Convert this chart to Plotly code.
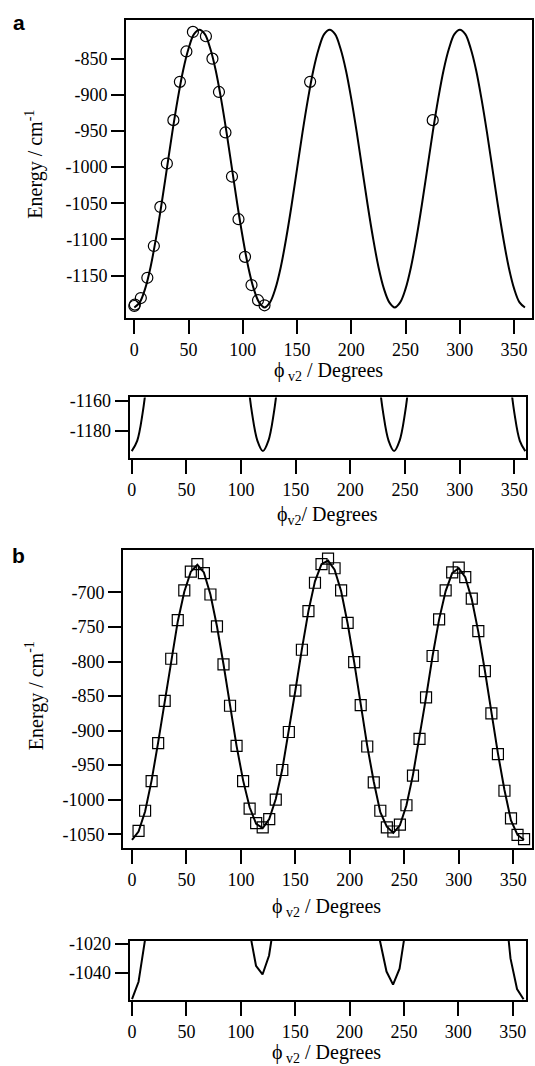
import plotly.graph_objects as go

W, H = 535, 1066

# ---------------- Panel a data ----------------
phi_a_curve = list(range(0, 361, 5))
E_a_curve = [
    -1194, -1187, -1168, -1138, -1098, -1052, -1002, -952, -906, -866, -836, -816,
    -810, -816, -836, -866, -906, -952, -1002, -1052, -1098, -1138, -1168, -1187,
    -1194, -1187, -1168, -1138, -1098, -1052, -1002, -952, -906, -866, -836, -816,
    -810, -816, -836, -866, -906, -952, -1002, -1052, -1098, -1138, -1168, -1187,
    -1194, -1187, -1168, -1138, -1098, -1052, -1002, -952, -906, -866, -836, -816,
    -810, -816, -836, -866, -906, -952, -1002, -1052, -1098, -1138, -1168, -1187,
    -1194,
]
phi_a_pts = [0, 0.5, 6, 12, 18, 24, 30, 36, 42, 48, 54, 66, 72, 78, 84, 90, 96,
             102, 108, 114, 120, 162, 275]
E_a_pts = [-1192, -1190, -1181, -1153, -1109, -1055, -995, -935, -882, -840, -813,
           -819, -850, -896, -952, -1013, -1072, -1124, -1163, -1184, -1191,
           -882, -935]

# ---------------- Panel b data ----------------
phi_b_curve = list(range(0, 361, 6))
E_b_curve = [
    -1058, -1046, -1017, -972, -917, -857, -797, -742, -699, -670, -660,
    -671, -703, -749, -804, -864, -922, -972, -1011, -1035, -1041,
    -1028, -999, -956, -902, -842, -782, -727, -684, -659, -654,
    -667, -698, -745, -801, -862, -922, -974, -1018, -1039, -1048,
    -1037, -1008, -964, -911, -852, -792, -739, -698, -672, -665,
    -678, -710, -757, -813, -874, -933, -986, -1030, -1051, -1058,
]
phi_b_pts = list(range(6, 361, 6))
E_b_pts = [
    -1045, -1016, -973, -918, -857, -796, -740, -697, -670, -659,
    -672, -703, -749, -804, -864, -922, -973, -1013, -1034, -1040,
    -1028, -1000, -957, -902, -842, -783, -727, -686, -659, -651,
    -665, -697, -744, -801, -863, -923, -975, -1016, -1040, -1046,
    -1036, -1008, -965, -912, -852, -792, -739, -697, -671, -664,
    -678, -709, -756, -814, -875, -934, -987, -1027, -1051, -1057,
]

x_ticks = [0, 50, 100, 150, 200, 250, 300, 350]
y_ticks_a = [-1150, -1100, -1050, -1000, -950, -900, -850]
y_ticks_a_small = [-1180, -1160]
y_ticks_b = [-1050, -1000, -950, -900, -850, -800, -750, -700]
y_ticks_b_small = [-1040, -1020]

SERIF = "Liberation Serif, Times New Roman, serif"
TICKFONT = dict(family=SERIF, size=18, color="black")
TITLEFONT = dict(family=SERIF, size=20, color="black")


def px_x(p):
    return p / W


def px_y(p):
    return 1 - p / H


fig = go.Figure()

line_style = dict(color="black", width=2)

# panel a main
fig.add_trace(go.Scatter(x=phi_a_curve, y=E_a_curve, mode="lines",
                         line=dict(shape="spline", smoothing=1, **line_style),
                         xaxis="x", yaxis="y", showlegend=False))
fig.add_trace(go.Scatter(x=phi_a_pts, y=E_a_pts, mode="markers",
                         marker=dict(symbol="circle-open", size=11, color="black",
                                     line=dict(width=1.2, color="black")),
                         xaxis="x", yaxis="y", showlegend=False))
# panel a small
fig.add_trace(go.Scatter(x=phi_a_curve, y=E_a_curve, mode="lines",
                         line=dict(shape="spline", smoothing=1, **line_style),
                         xaxis="x2", yaxis="y2", showlegend=False))
# panel b main
fig.add_trace(go.Scatter(x=phi_b_curve, y=E_b_curve, mode="lines",
                         line=line_style,
                         xaxis="x3", yaxis="y3", showlegend=False))
fig.add_trace(go.Scatter(x=phi_b_pts, y=E_b_pts, mode="markers",
                         marker=dict(symbol="square-open", size=11, color="black",
                                     line=dict(width=1.2, color="black")),
                         xaxis="x3", yaxis="y3", showlegend=False))
# panel b small
fig.add_trace(go.Scatter(x=phi_b_curve, y=E_b_curve, mode="lines",
                         line=line_style,
                         xaxis="x4", yaxis="y4", showlegend=False))


def xax(domain, rng, anchor):
    return dict(domain=domain, range=rng, anchor=anchor, tickvals=x_ticks,
                ticktext=[str(v) for v in x_ticks],
                ticks="outside", ticklen=14, tickwidth=2, tickcolor="black",
                showline=True, linecolor="black", linewidth=2, mirror=True,
                showgrid=False, zeroline=False, tickfont=TICKFONT,
                ticklabelstandoff=0)


def yax(domain, rng, anchor, tv):
    return dict(domain=domain, range=rng, anchor=anchor, tickvals=tv,
                ticktext=[str(v) for v in tv],
                ticks="outside", ticklen=13, tickwidth=2, tickcolor="black",
                showline=True, linecolor="black", linewidth=2, mirror=True,
                showgrid=False, zeroline=False, tickfont=TICKFONT)


fig.update_layout(
    width=W, height=H, margin=dict(l=0, r=0, t=0, b=0),
    paper_bgcolor="white", plot_bgcolor="white", showlegend=False,
    xaxis=xax([px_x(125), px_x(534)], [-7.6, 366.5], "y"),
    yaxis=yax([px_y(313), px_y(13)], [-1208.5, -796.4], "x", y_ticks_a),
    xaxis2=xax([px_x(128.6), px_x(528)], [-1.9, 360.7], "y2"),
    yaxis2=yax([px_y(454), px_y(393)], [-1198.7, -1157.5], "x2", y_ticks_a_small),
    xaxis3=xax([px_x(122), px_x(534)], [-8.2, 367.3], "y3"),
    yaxis3=yax([px_y(846.5), px_y(547)], [-1069.8, -639.2], "x3", y_ticks_b),
    xaxis4=xax([px_x(128.6), px_x(528)], [-2.2, 362.3], "y4"),
    yaxis4=yax([px_y(999.5), px_y(940)], [-1058.5, -1017.9], "x4", y_ticks_b_small),
)

ann = []
# panel letters
ann.append(dict(text="<b>a</b>", x=px_x(17), y=px_y(16), xref="paper", yref="paper",
                xanchor="center", yanchor="middle", showarrow=False,
                font=dict(family="Liberation Sans", size=21, color="black")))
ann.append(dict(text="<b>b</b>", x=px_x(17), y=px_y(552), xref="paper", yref="paper",
                xanchor="center", yanchor="middle", showarrow=False,
                font=dict(family="Liberation Sans", size=21, color="black")))
# y titles
for yc in (158, 693):
    ann.append(dict(text="Energy / cm<sup>-1</sup>", x=px_x(33), y=px_y(yc),
                    xref="paper", yref="paper", xanchor="center", yanchor="middle",
                    textangle=-90, showarrow=False, font=TITLEFONT))
# x titles
xt = [
    ("ϕ<sub> v2</sub> / Degrees", 329, 367),
    ("ϕ<sub>v2</sub>/ Degrees", 327.5, 512),
    ("ϕ<sub> v2</sub> / Degrees", 327, 906),
    ("ϕ<sub> v2</sub> / Degrees", 327, 1053),
]
for t, xc, yc in xt:
    ann.append(dict(text=t, x=px_x(xc), y=px_y(yc), xref="paper", yref="paper",
                    xanchor="center", yanchor="middle", showarrow=False,
                    font=TITLEFONT))
fig.update_layout(annotations=ann)

fig.write_html("out.html")
